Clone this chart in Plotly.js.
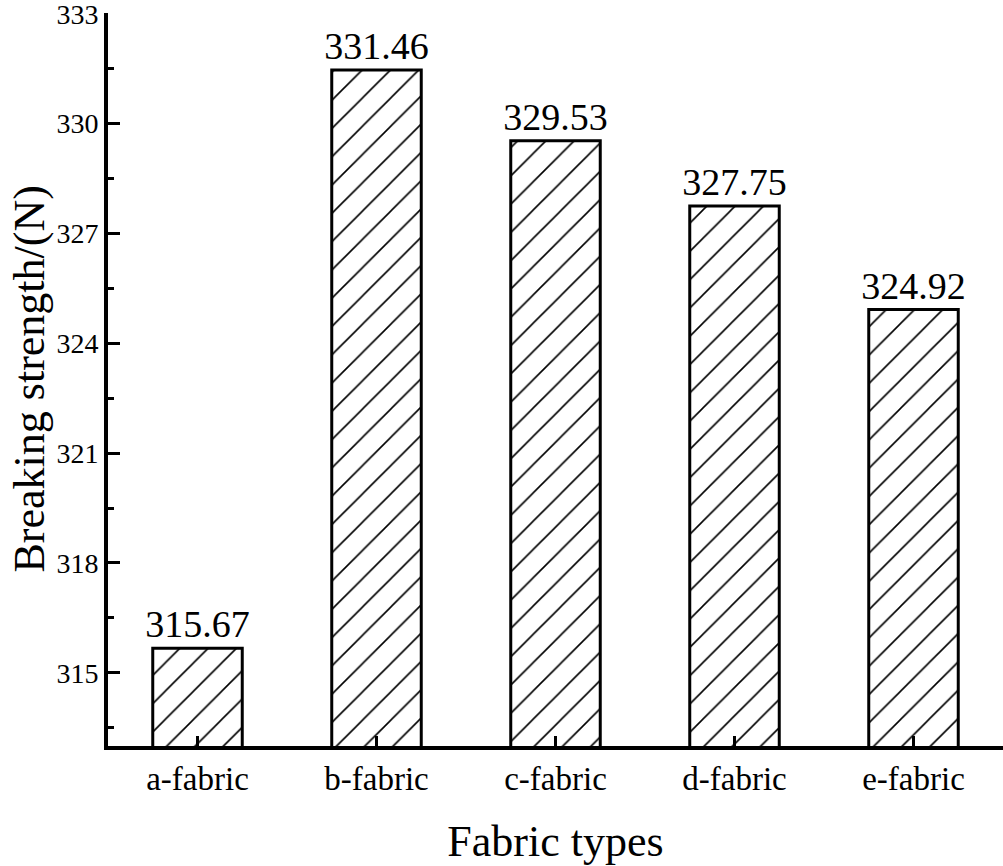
<!DOCTYPE html>
<html>
<head>
<meta charset="utf-8">
<script src="https://cdn.plot.ly/plotly-3.0.1.min.js"></script>
<style>html,body{margin:0;padding:0;background:#fff;}#chart{width:1003px;height:866px;}</style>
</head>
<body>
<div id="chart"></div>
<script>
var categories = ["a-fabric", "b-fabric", "c-fabric", "d-fabric", "e-fabric"];
var strengths = [315.67, 331.46, 329.53, 327.75, 324.92];
var yTickVals = [315, 318, 321, 324, 327, 330, 333];
var xTitle = "Fabric types";
var yTitle = "Breaking strength/(N)";

var FONT = "Liberation Serif";

var trace = {
  type: "bar",
  x: categories,
  y: strengths,
  width: 0.5,
  marker: {
    color: "#ffffff",
    line: {color: "#000000", width: 3},
    pattern: {shape: "/", fgcolor: "#000000", bgcolor: "#ffffff", size: 20, solidity: 0.08, fillmode: "replace"}
  },
  text: strengths.map(function(v){return v.toFixed(2);}),
  textposition: "outside",
  constraintext: "none",
  textfont: {family: FONT, size: 38, color: "#000"},
  cliponaxis: false,
  hoverinfo: "skip"
};

var layout = {
  width: 1003,
  height: 866,
  margin: {l: 108, r: 0, t: 13, b: 120},
  paper_bgcolor: "#fff",
  plot_bgcolor: "#fff",
  showlegend: false,
  font: {family: FONT, color: "#000"},
  xaxis: {
    type: "category",
    range: [-0.5, 4.5],
    showline: true, linecolor: "#000", linewidth: 4,
    ticks: "inside", ticklen: 10, tickwidth: 3, tickcolor: "#000",
    tickfont: {family: FONT, size: 33, color: "#000"},
    showgrid: false, zeroline: false,
    title: {text: xTitle, font: {family: FONT, size: 44, color: "#000"}}
  },
  yaxis: {
    range: [313, 333.02],
    tickmode: "array",
    tickvals: yTickVals,
    ticklabeloverflow: "allow",
    showline: true, linecolor: "#000", linewidth: 4,
    ticks: "inside", ticklen: 12, tickwidth: 3, tickcolor: "#000",
    tickfont: {family: FONT, size: 28, color: "#000"},
    minor: {dtick: 1.5, tick0: 313.5, ticks: "inside", ticklen: 6, tickwidth: 3, tickcolor: "#000", showgrid: false},
    showgrid: false, zeroline: false
  },
  annotations: [{
    text: yTitle,
    xref: "paper", yref: "paper",
    x: 0, y: 0.5,
    xanchor: "center", yanchor: "middle",
    xshift: -79,
    textangle: -90,
    showarrow: false,
    font: {family: FONT, size: 44, color: "#000"}
  }]
};

Plotly.newPlot("chart", [trace], layout, {staticPlot: true, displayModeBar: false});
</script>
</body>
</html>
